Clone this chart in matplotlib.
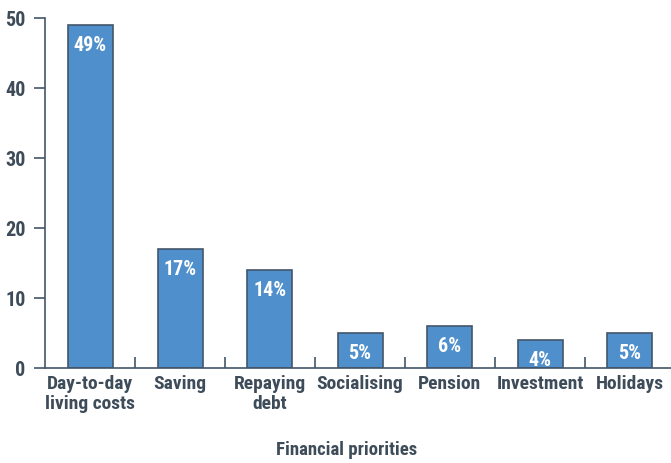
import matplotlib
matplotlib.use("Agg")
import matplotlib.pyplot as plt
from matplotlib.ticker import FixedLocator

categories = ["Day-to-day\nliving costs", "Saving", "Repaying\ndebt", "Socialising",
              "Pension", "Investment", "Holidays"]
shares = [49, 17, 14, 5, 6, 4, 5]
y_ticks = [0, 10, 20, 30, 40, 50]

text_col = "#3e4c5a"
edge_col = "#43566a"
bar_col = "#4f8fcc"

plt.rcParams["font.family"] = ["Roboto Condensed", "Open Sans Condensed",
                               "Liberation Sans Narrow", "Roboto", "DejaVu Sans"]
plt.rcParams["font.weight"] = "bold"

fig = plt.figure(figsize=(6.71, 4.63), dpi=100)
ax = fig.add_axes([45 / 671, 95 / 463, 630 / 671, 350 / 463])

x = list(range(len(categories)))
bars = ax.bar(x, shares, width=0.5, color=bar_col, edgecolor=edge_col, linewidth=1.2)

for xi, v in zip(x, shares):
    ax.annotate(f"{v}%", (xi, v), xytext=(0, -15), textcoords="offset points",
                ha="center", va="center", color="white", fontsize=14.5, fontweight="bold")

ax.set_xlim(-0.5, len(categories) - 0.5)
ax.set_ylim(0, 50)
ax.set_yticks(y_ticks)
ax.set_xticks(x)
ax.set_xticklabels(categories, fontsize=14, fontweight="bold", color=text_col,
                   linespacing=1.15)
ax.xaxis.set_minor_locator(FixedLocator([i + 0.5 for i in x[:-1]]))
ax.tick_params(axis="x", which="major", length=0, pad=5)
ax.tick_params(axis="x", which="minor", direction="in", length=8, width=1.2, color=edge_col)
ax.tick_params(axis="y", length=8, width=1.2, color=edge_col, labelsize=14.5,
               labelcolor=text_col, pad=6)
for lab in ax.get_yticklabels():
    lab.set_fontweight("bold")

for side in ["top", "right"]:
    ax.spines[side].set_visible(False)
for side in ["left", "bottom"]:
    ax.spines[side].set_color(edge_col)
    ax.spines[side].set_linewidth(1.2)

ax.set_xlabel("Financial priorities", fontsize=13.5, fontweight="bold", color=text_col)
ax.xaxis.label.set_verticalalignment("center")
ax.xaxis.set_label_coords((347 - 45) / 630, -82 / 350)

fig.savefig("out.png", dpi=100)
